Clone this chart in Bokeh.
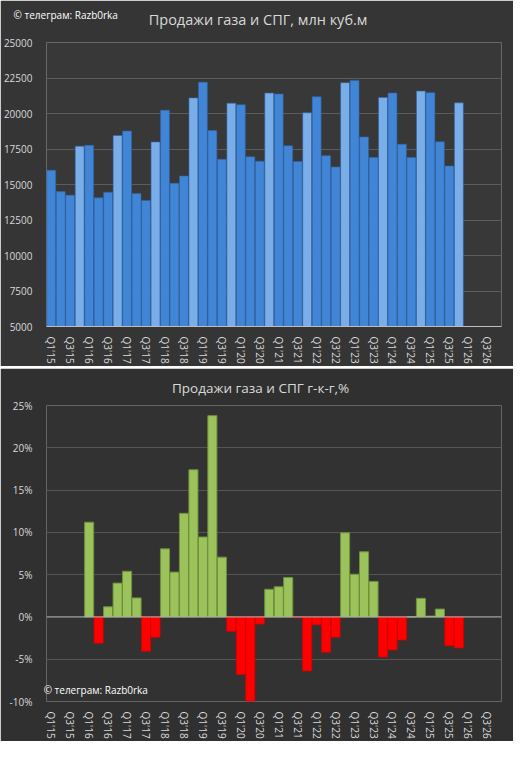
from bokeh.plotting import figure
from bokeh.layouts import column
from bokeh.models import FixedTicker, Label, Span, PrintfTickFormatter, ColumnDataSource
from bokeh.embed import file_html
from bokeh.resources import INLINE

quarters = ["Q1'15", "Q2'15", "Q3'15", "Q4'15", "Q1'16", "Q2'16", "Q3'16", "Q4'16",
            "Q1'17", "Q2'17", "Q3'17", "Q4'17", "Q1'18", "Q2'18", "Q3'18", "Q4'18",
            "Q1'19", "Q2'19", "Q3'19", "Q4'19", "Q1'20", "Q2'20", "Q3'20", "Q4'20",
            "Q1'21", "Q2'21", "Q3'21", "Q4'21", "Q1'22", "Q2'22", "Q3'22", "Q4'22",
            "Q1'23", "Q2'23", "Q3'23", "Q4'23", "Q1'24", "Q2'24", "Q3'24", "Q4'24",
            "Q1'25", "Q2'25", "Q3'25", "Q4'25", "Q1'26", "Q2'26", "Q3'26", "Q4'26"]

# sales, mln cubic m (Q1'15 .. Q4'25)
sales = [16000, 14500, 14250, 17700,
         17760, 14060, 14450, 18450,
         18760, 14360, 13880, 18000,
         20230, 15090, 15600, 21100,
         22200, 18800, 16770, 20730,
         20620, 16950, 16640, 21440,
         21370, 17730, 16620, 20050,
         21180, 17030, 16230, 22170,
         22330, 18350, 16900, 21130,
         21440, 17840, 16900, 21580,
         21470, 18010, 16300, 20750]

# year-over-year change, % (Q1'16 .. Q4'25)
yoy = [11.2, -3.1, 1.2, 4.0,
       5.4, 2.25, -4.05, -2.4,
       8.05, 5.3, 12.25, 17.4,
       9.45, 23.8, 7.07, -1.7,
       -6.8, -9.96, -0.85, 3.27,
       3.57, 4.67, -0.1, -6.38,
       -0.93, -4.17, -2.4, 9.95,
       5.05, 7.7, 4.2, -4.75,
       -3.9, -2.73, 0.0, 2.2,
       0.1, 0.93, -3.4, -3.66]
yoy_start = 4

top_ticks = [5000, 7500, 10000, 12500, 15000, 17500, 20000, 22500, 25000]
bot_ticks = [-10, -5, 0, 5, 10, 15, 20, 25]

title_top = "Продажи газа и СПГ, млн куб.м"
title_bot = "Продажи газа и СПГ г-к-г,%"
credit = "© телеграм: Razb0rka"

FONT = "Open Sans"
TXT = "#d9d9d9"
W = 513

n = len(quarters)
xt = list(range(0, n, 2))
overrides = {i: quarters[i] for i in xt}

# ---------- top chart ----------
H1 = 366
p1 = figure(width=W, height=H1, output_backend="svg", toolbar_location=None,
            x_range=(-0.5, n - 0.5), y_range=(5000, 25000),
            min_border_left=45, min_border_right=12, min_border_top=42, min_border_bottom=36,
            background_fill_color="#383838", border_fill_color="#353535")
p1.outline_line_color = None
p1.xgrid.grid_line_color = None
p1.ygrid.grid_line_color = "#5c5c5c"
p1.ygrid.ticker = FixedTicker(ticks=top_ticks)

idx = list(range(len(sales)))
colors = ["#7aaee9" if quarters[i].startswith("Q4") else "#4185d6" for i in idx]
src1 = ColumnDataSource(dict(x=idx, top=sales, color=colors))
p1.vbar(x="x", top="top", bottom=5000, width=0.94, source=src1,
        fill_color="color", line_color="#2f64a8", line_width=0.6)

p1.yaxis.ticker = FixedTicker(ticks=top_ticks)
p1.xaxis.ticker = FixedTicker(ticks=xt)
p1.xaxis.major_label_overrides = overrides
p1.xaxis.major_label_orientation = "vertical"
p1.xaxis.axis_line_color = "#bfbfbf"
p1.yaxis.axis_line_color = None
for ax in (p1.xaxis, p1.yaxis):
    ax.major_tick_line_color = None
    ax.minor_tick_line_color = None
    ax.major_label_text_color = TXT
    ax.major_label_text_font = FONT
    ax.major_label_text_font_size = "10px"
p1.xaxis.major_label_standoff = 4
p1.yaxis.major_label_standoff = 8

p1.add_layout(Label(x=21.82, y=26600, text=title_top, text_align="center",
                    text_baseline="middle", text_color=TXT, text_font=FONT,
                    text_font_size="14.5px"), "above")
p1.add_layout(Label(x=-3.97, y=26950, text=credit, text_align="left",
                    text_baseline="middle", text_color="#ffffff", text_font=FONT,
                    text_font_size="10px"), "above")

# ---------- bottom chart ----------
H2 = 741 - H1 - 2
p2 = figure(width=W, height=H2, output_backend="svg", toolbar_location=None,
            x_range=(-0.5, n - 0.5), y_range=(-10, 25),
            min_border_left=33, min_border_right=4, min_border_top=37, min_border_bottom=35,
            background_fill_color="#323232", border_fill_color="#303030")
p2.outline_line_color = None
p2.xgrid.grid_line_color = None
p2.ygrid.grid_line_color = "#555555"
p2.ygrid.ticker = FixedTicker(ticks=[t for t in bot_ticks if t != 0])

yx = list(range(yoy_start, yoy_start + len(yoy)))
pos_x = [x for x, v in zip(yx, yoy) if v >= 0]
pos_v = [v for v in yoy if v >= 0]
neg_x = [x for x, v in zip(yx, yoy) if v < 0]
neg_v = [v for v in yoy if v < 0]
p2.vbar(x=pos_x, top=pos_v, bottom=0, width=0.96,
        fill_color="#9cc35b", line_color="#6f8e3c", line_width=1)
p2.vbar(x=neg_x, top=0, bottom=neg_v, width=0.96,
        fill_color="#ff0000", line_color="#d40000", line_width=0.8)
p2.add_layout(Span(location=0, dimension="width", line_color="#bfbfbf", line_width=1))

p2.yaxis.ticker = FixedTicker(ticks=bot_ticks)
p2.yaxis.formatter = PrintfTickFormatter(format="%d%%")
p2.xaxis.ticker = FixedTicker(ticks=xt)
p2.xaxis.major_label_overrides = overrides
p2.xaxis.major_label_orientation = "vertical"
p2.xaxis.axis_line_color = None
p2.yaxis.axis_line_color = None
for ax in (p2.xaxis, p2.yaxis):
    ax.major_tick_line_color = None
    ax.minor_tick_line_color = None
    ax.major_label_text_color = TXT
    ax.major_label_text_font = FONT
    ax.major_label_text_font_size = "10px"
p2.xaxis.major_label_standoff = 4
p2.yaxis.major_label_standoff = 8

p2.add_layout(Label(x=22.09, y=27.1, text=title_bot, text_align="center",
                    text_baseline="middle", text_color=TXT, text_font=FONT,
                    text_font_size="13.5px"), "above")
p2.add_layout(Label(x=-0.8, y=-8.6, text=credit, text_align="left",
                    text_baseline="middle", text_color="#ffffff", text_font=FONT,
                    text_font_size="10px"), "above")

layout = column(p1, p2, spacing=2)
open("out.html", "w").write(file_html(layout, INLINE))
